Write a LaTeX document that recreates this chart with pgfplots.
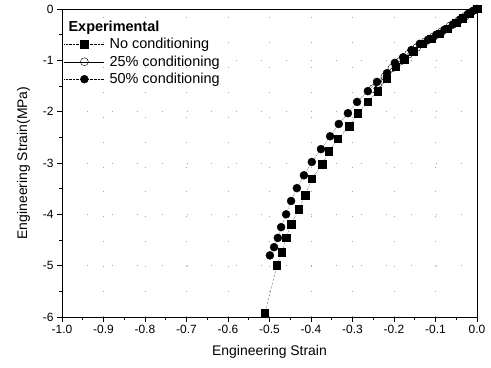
\documentclass[border=0pt]{standalone}
\usepackage{pgfplots}
\pgfplotsset{compat=1.18}
\usepackage{fontspec}
\setmainfont{Liberation Sans}
\begin{document}
\begin{tikzpicture}
\begin{axis}[
  scale only axis,
  width=415bp, height=308bp,
  xmin=-1.0, xmax=0.0, ymin=-6, ymax=0,
  xtick={-1.0,-0.9,...,0.0},
  xticklabels={-1.0,-0.9,-0.8,-0.7,-0.6,-0.5,-0.4,-0.3,-0.2,-0.1,0.0},
  ytick={-6,-5,...,0},
  minor x tick num=1, minor y tick num=1,
  tick align=outside, xtick pos=left, ytick pos=left,
  major tick length=5bp, minor tick length=3bp,
  tick style={black, line width=0.6pt},
  axis line style={line width=0.8pt},
  ticklabel style={font=\fontsize{12}{13}\selectfont},
  /pgf/number format/assume math mode=true,
  xlabel={Engineering Strain}, ylabel={Engineering Strain(MPa)},
  label style={font=\fontsize{14}{16}\selectfont},
  xlabel style={yshift=-5bp},
  ylabel style={yshift=6bp},
  grid=major,
  major grid style={gray!70, line width=0.6pt, dash pattern=on 1pt off 24pt},
  legend style={draw=none, fill=none, at={(0.0,0.975)}, anchor=north west,
    font=\fontsize{14.5}{16}\selectfont, row sep=1.5bp, cells={anchor=west},
    inner xsep=2bp},
  legend cell align=left,
  legend image code/.code={%
    \draw[mark repeat=2,mark phase=2,#1] plot coordinates {(0bp,0bp) (20bp,0bp) (40bp,0bp)};},
]
\addlegendimage{empty legend}
\addlegendentry{\hspace*{-38bp}\textbf{Experimental}}
\addplot[black, densely dotted, thin, mark=square*, mark size=3.7bp, mark options={solid}] coordinates {
(-0.511,-5.93) (-0.482,-4.99) (-0.470,-4.74) (-0.460,-4.46) (-0.448,-4.19) (-0.429,-3.90)
(-0.414,-3.63) (-0.398,-3.31) (-0.373,-3.02) (-0.357,-2.77) (-0.335,-2.53) (-0.308,-2.28)
(-0.287,-2.03) (-0.263,-1.81) (-0.239,-1.60) (-0.217,-1.36) (-0.196,-1.12) (-0.175,-0.98)
(-0.154,-0.82) (-0.132,-0.68) (-0.110,-0.58) (-0.090,-0.48) (-0.070,-0.38) (-0.050,-0.27)
(-0.034,-0.18) (-0.017,-0.08) (0,0)
};
\addlegendentry{\hspace*{3bp}No conditioning}
\addplot[black, thin, mark=o, mark size=4bp, mark options={solid, fill=white}] coordinates {
(-0.250,-1.55) (-0.238,-1.45) (-0.222,-1.32) (-0.205,-1.15) (-0.186,-1.02) (-0.165,-0.88)
(-0.145,-0.75) (-0.125,-0.64) (-0.105,-0.54) (-0.085,-0.44) (-0.065,-0.33) (-0.045,-0.23)
(-0.028,-0.14) (-0.012,-0.05) (0,0)
};
\addlegendentry{\hspace*{3bp}25\% conditioning}
\addplot[black, densely dotted, thin, mark=*, mark size=4bp, mark options={solid}] coordinates {
(-0.499,-4.80) (-0.489,-4.64) (-0.480,-4.46) (-0.472,-4.25) (-0.460,-4.00) (-0.448,-3.74)
(-0.434,-3.49) (-0.417,-3.24) (-0.398,-2.98) (-0.376,-2.73) (-0.354,-2.48) (-0.333,-2.24)
(-0.311,-2.03) (-0.289,-1.81) (-0.263,-1.60) (-0.241,-1.42) (-0.217,-1.25) (-0.198,-1.05)
(-0.178,-0.94) (-0.158,-0.80) (-0.138,-0.68) (-0.118,-0.60) (-0.098,-0.50) (-0.078,-0.40)
(-0.058,-0.30) (-0.040,-0.20) (-0.022,-0.10) (-0.008,-0.03) (0,0)
};
\addlegendentry{\hspace*{3bp}50\% conditioning}
\path (rel axis cs:0,0) ++(-62bp,-51bp) coordinate (bl);
\path (rel axis cs:1,1) ++(14bp,9bp) coordinate (tr);
\end{axis}
\useasboundingbox (bl) rectangle (tr);
\end{tikzpicture}
\end{document}
